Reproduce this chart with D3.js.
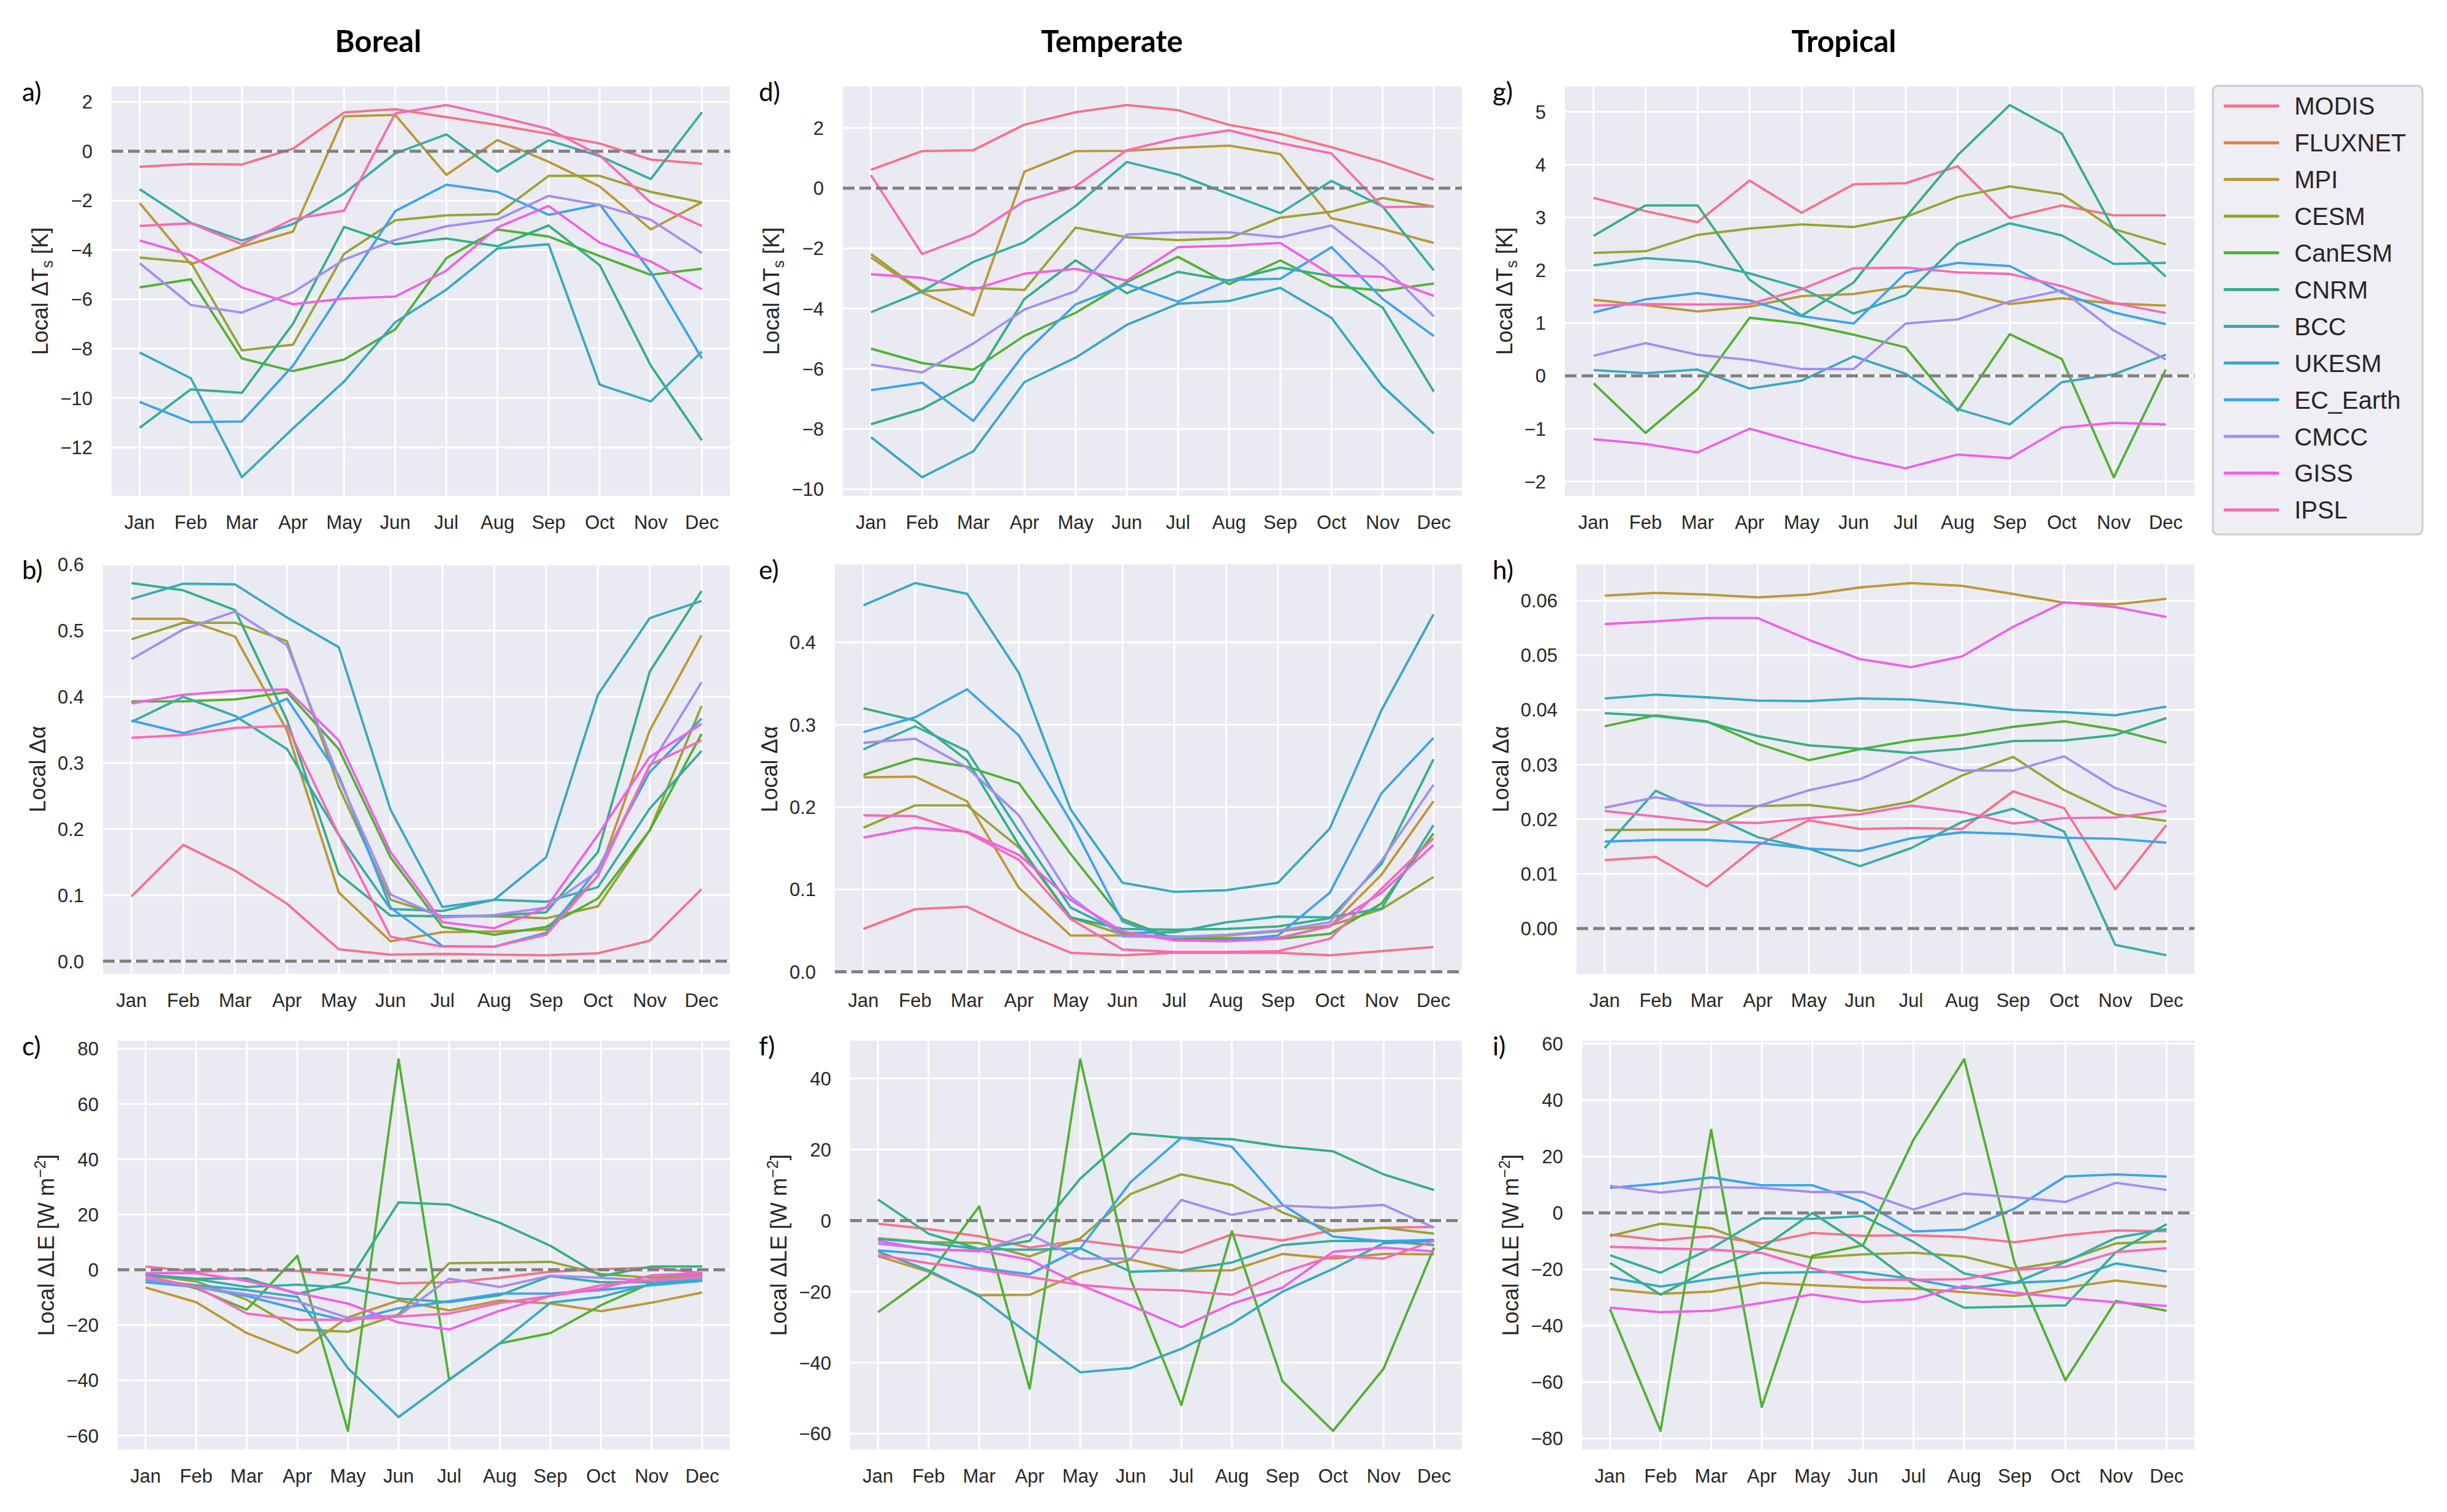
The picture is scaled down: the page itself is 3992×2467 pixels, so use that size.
<!DOCTYPE html>
<html>
<head>
<meta charset="utf-8">
<script src="https://cdn.jsdelivr.net/npm/d3@7"></script>
<style>
body { margin: 0; background: #fff; }
text { font-family: "Liberation Sans", Arial, sans-serif; fill: #262626; }
</style>
</head>
<body>
<svg id="fig" width="3992" height="2467"></svg>
<script>
// categories
var months = ["Jan", "Feb", "Mar", "Apr", "May", "Jun", "Jul", "Aug", "Sep", "Oct", "Nov", "Dec"];
var models = ["MODIS", "FLUXNET", "MPI", "CESM", "CanESM", "CNRM", "BCC", "UKESM", "EC_Earth", "CMCC", "GISS", "IPSL"];
var modelColors = ["#f77189", "#e0823a", "#bb9832", "#98a331", "#50b131", "#34af84", "#36ada4", "#38a9c0", "#3ba3ec", "#a48cf4", "#f15fe8", "#f66bb4"];

// local surface temperature change [K] (FLUXNET has no values)
var tsBoreal = {
  MODIS:    [-0.63, -0.52, -0.54, 0.10, 1.57, 1.70, 1.38, 1.06, 0.70, 0.31, -0.34, -0.51],
  MPI:      [-2.10, -4.58, -3.86, -3.26, 1.41, 1.47, -0.96, 0.45, -0.43, -1.43, -3.17, -2.07],
  CESM:     [-4.31, -4.50, -8.07, -7.84, -4.16, -2.80, -2.60, -2.55, -1.00, -1.00, -1.65, -2.07],
  CanESM:   [-5.52, -5.19, -8.40, -8.91, -8.44, -7.22, -4.33, -3.17, -3.46, -4.25, -5.01, -4.76],
  CNRM:     [-11.21, -9.65, -9.79, -6.99, -3.07, -3.77, -3.54, -3.85, -3.01, -4.62, -8.69, -11.72],
  BCC:      [-1.54, -2.90, -3.62, -2.95, -1.71, -0.09, 0.68, -0.83, 0.44, -0.20, -1.13, 1.58],
  UKESM:    [-8.16, -9.20, -13.21, -11.23, -9.33, -6.93, -5.61, -3.94, -3.77, -9.46, -10.14, -8.12],
  EC_Earth: [-10.16, -10.98, -10.95, -8.69, -5.55, -2.43, -1.36, -1.65, -2.58, -2.16, -4.90, -8.40],
  CMCC:     [-4.54, -6.23, -6.54, -5.72, -4.39, -3.60, -3.04, -2.77, -1.81, -2.18, -2.78, -4.13],
  GISS:     [-3.62, -4.22, -5.52, -6.20, -5.97, -5.89, -4.84, -3.09, -2.22, -3.71, -4.47, -5.60],
  IPSL:     [-3.03, -2.92, -3.77, -2.75, -2.41, 1.53, 1.87, 1.41, 0.90, -0.17, -2.09, -3.03]
};
var tsTemperate = {
  MODIS:    [0.61, 1.23, 1.26, 2.11, 2.52, 2.76, 2.59, 2.10, 1.80, 1.36, 0.87, 0.28],
  MPI:      [-2.30, -3.47, -4.23, 0.55, 1.23, 1.24, 1.34, 1.41, 1.13, -1.00, -1.36, -1.82],
  CESM:     [-2.19, -3.43, -3.31, -3.38, -1.31, -1.63, -1.73, -1.66, -0.98, -0.78, -0.33, -0.61],
  CanESM:   [-5.33, -5.81, -6.03, -4.90, -4.14, -3.12, -2.28, -3.19, -2.40, -3.26, -3.40, -3.17],
  CNRM:     [-7.84, -7.33, -6.42, -3.68, -2.40, -3.49, -2.78, -3.07, -2.64, -2.92, -3.96, -6.76],
  BCC:      [-4.12, -3.43, -2.45, -1.79, -0.59, 0.87, 0.45, -0.20, -0.83, 0.24, -0.61, -2.73],
  UKESM:    [-8.27, -9.60, -8.74, -6.44, -5.63, -4.54, -3.84, -3.75, -3.31, -4.31, -6.58, -8.15],
  EC_Earth: [-6.71, -6.46, -7.73, -5.49, -3.86, -3.19, -3.77, -3.05, -3.01, -1.96, -3.68, -4.91],
  CMCC:     [-5.86, -6.12, -5.16, -4.03, -3.42, -1.54, -1.47, -1.47, -1.63, -1.24, -2.56, -4.26],
  GISS:     [-2.86, -2.98, -3.37, -2.84, -2.68, -3.07, -1.96, -1.91, -1.82, -2.89, -2.95, -3.58],
  IPSL:     [0.43, -2.19, -1.54, -0.43, 0.06, 1.26, 1.66, 1.92, 1.50, 1.15, -0.63, -0.61]
};
var tsTropical = {
  MODIS:    [3.37, 3.12, 2.91, 3.70, 3.09, 3.63, 3.65, 3.97, 2.99, 3.23, 3.04, 3.04],
  MPI:      [1.44, 1.34, 1.22, 1.31, 1.51, 1.55, 1.70, 1.60, 1.36, 1.47, 1.37, 1.33],
  CESM:     [2.33, 2.36, 2.67, 2.79, 2.87, 2.82, 3.01, 3.39, 3.59, 3.44, 2.78, 2.49],
  CanESM:   [-0.14, -1.08, -0.25, 1.10, 0.99, 0.78, 0.54, -0.66, 0.79, 0.32, -1.92, 0.12],
  CNRM:     [2.65, 3.23, 3.23, 1.82, 1.14, 1.77, 3.00, 4.18, 5.13, 4.59, 2.77, 1.88],
  BCC:      [2.09, 2.23, 2.16, 1.94, 1.66, 1.18, 1.53, 2.50, 2.89, 2.66, 2.12, 2.14],
  UKESM:    [0.11, 0.05, 0.12, -0.24, -0.09, 0.37, 0.04, -0.63, -0.92, -0.12, 0.03, 0.40],
  EC_Earth: [1.20, 1.45, 1.57, 1.43, 1.13, 0.99, 1.95, 2.14, 2.08, 1.58, 1.20, 0.98],
  CMCC:     [0.38, 0.62, 0.40, 0.30, 0.13, 0.13, 0.99, 1.07, 1.41, 1.62, 0.86, 0.31],
  GISS:     [-1.20, -1.29, -1.45, -1.00, -1.28, -1.54, -1.75, -1.49, -1.56, -0.98, -0.89, -0.92],
  IPSL:     [1.33, 1.36, 1.35, 1.36, 1.64, 2.04, 2.05, 1.96, 1.93, 1.70, 1.38, 1.19]
};

// local albedo change
var albBoreal = {
  MODIS:    [0.098, 0.176, 0.137, 0.087, 0.018, 0.010, 0.011, 0.010, 0.009, 0.012, 0.031, 0.109],
  MPI:      [0.518, 0.518, 0.491, 0.349, 0.104, 0.030, 0.044, 0.045, 0.048, 0.129, 0.349, 0.493],
  CESM:     [0.487, 0.512, 0.512, 0.484, 0.264, 0.093, 0.068, 0.068, 0.065, 0.083, 0.198, 0.386],
  CanESM:   [0.393, 0.393, 0.396, 0.407, 0.321, 0.157, 0.052, 0.040, 0.052, 0.095, 0.198, 0.344],
  CNRM:     [0.572, 0.561, 0.531, 0.365, 0.132, 0.069, 0.068, 0.069, 0.074, 0.165, 0.438, 0.560],
  BCC:      [0.362, 0.400, 0.371, 0.321, 0.191, 0.079, 0.076, 0.093, 0.090, 0.112, 0.231, 0.318],
  UKESM:    [0.548, 0.571, 0.570, 0.520, 0.475, 0.229, 0.082, 0.093, 0.157, 0.403, 0.519, 0.545],
  EC_Earth: [0.364, 0.345, 0.365, 0.397, 0.281, 0.081, 0.023, 0.022, 0.043, 0.140, 0.286, 0.367],
  CMCC:     [0.457, 0.502, 0.529, 0.478, 0.277, 0.101, 0.066, 0.070, 0.081, 0.136, 0.295, 0.422],
  GISS:     [0.390, 0.403, 0.409, 0.411, 0.334, 0.165, 0.059, 0.050, 0.081, 0.191, 0.309, 0.359],
  IPSL:     [0.338, 0.342, 0.353, 0.356, 0.191, 0.037, 0.022, 0.022, 0.040, 0.129, 0.297, 0.334]
};
var albTemperate = {
  MODIS:    [0.052, 0.076, 0.079, 0.049, 0.023, 0.020, 0.023, 0.023, 0.023, 0.020, 0.025, 0.030],
  MPI:      [0.236, 0.237, 0.207, 0.102, 0.044, 0.044, 0.043, 0.041, 0.041, 0.055, 0.118, 0.207],
  CESM:     [0.175, 0.202, 0.202, 0.151, 0.066, 0.045, 0.042, 0.044, 0.049, 0.056, 0.076, 0.115],
  CanESM:   [0.239, 0.259, 0.249, 0.229, 0.143, 0.064, 0.040, 0.040, 0.040, 0.046, 0.083, 0.168],
  CNRM:     [0.320, 0.305, 0.257, 0.154, 0.066, 0.052, 0.051, 0.052, 0.055, 0.065, 0.131, 0.258],
  BCC:      [0.270, 0.298, 0.268, 0.171, 0.078, 0.047, 0.048, 0.060, 0.067, 0.066, 0.077, 0.178],
  UKESM:    [0.445, 0.472, 0.459, 0.363, 0.197, 0.108, 0.097, 0.099, 0.108, 0.174, 0.318, 0.434],
  EC_Earth: [0.291, 0.309, 0.343, 0.287, 0.183, 0.061, 0.038, 0.038, 0.044, 0.096, 0.217, 0.284],
  CMCC:     [0.278, 0.283, 0.248, 0.190, 0.091, 0.043, 0.042, 0.045, 0.050, 0.060, 0.135, 0.227],
  GISS:     [0.163, 0.175, 0.170, 0.142, 0.087, 0.049, 0.038, 0.037, 0.040, 0.056, 0.096, 0.154],
  IPSL:     [0.190, 0.189, 0.169, 0.136, 0.064, 0.027, 0.024, 0.024, 0.025, 0.040, 0.101, 0.162]
};
var albTropical = {
  MODIS:    [0.0125, 0.0131, 0.0077, 0.0152, 0.0198, 0.0182, 0.0184, 0.0182, 0.0251, 0.0220, 0.0072, 0.0189],
  MPI:      [0.0609, 0.0614, 0.0611, 0.0606, 0.0611, 0.0624, 0.0632, 0.0627, 0.0612, 0.0596, 0.0593, 0.0603],
  CESM:     [0.0180, 0.0181, 0.0181, 0.0224, 0.0226, 0.0215, 0.0232, 0.0280, 0.0314, 0.0253, 0.0209, 0.0197],
  CanESM:   [0.0370, 0.0390, 0.0379, 0.0338, 0.0308, 0.0328, 0.0344, 0.0354, 0.0369, 0.0379, 0.0364, 0.0340],
  CNRM:     [0.0394, 0.0389, 0.0378, 0.0352, 0.0335, 0.0329, 0.0321, 0.0329, 0.0343, 0.0344, 0.0354, 0.0385],
  BCC:      [0.0147, 0.0252, 0.0210, 0.0167, 0.0146, 0.0114, 0.0147, 0.0195, 0.0219, 0.0177, -0.0030, -0.0049],
  UKESM:    [0.0421, 0.0428, 0.0423, 0.0417, 0.0416, 0.0421, 0.0419, 0.0411, 0.0400, 0.0396, 0.0390, 0.0406],
  EC_Earth: [0.0159, 0.0162, 0.0162, 0.0157, 0.0146, 0.0142, 0.0165, 0.0176, 0.0173, 0.0166, 0.0164, 0.0157],
  CMCC:     [0.0221, 0.0240, 0.0225, 0.0224, 0.0253, 0.0273, 0.0314, 0.0289, 0.0289, 0.0315, 0.0257, 0.0223],
  GISS:     [0.0557, 0.0562, 0.0568, 0.0568, 0.0528, 0.0493, 0.0478, 0.0498, 0.0552, 0.0597, 0.0588, 0.0570],
  IPSL:     [0.0215, 0.0205, 0.0195, 0.0193, 0.0202, 0.0209, 0.0225, 0.0213, 0.0192, 0.0202, 0.0203, 0.0215]
};

// local latent heat flux change [W m-2]
var leBoreal = {
  MODIS:    [1.2, -0.7, -0.1, -0.4, -2.1, -4.9, -4.5, -2.9, -0.7, 0.2, 0.8, -1.2],
  MPI:      [-6.4, -11.7, -22.9, -30.1, -17.2, -11.1, -14.7, -11.1, -12.2, -15.0, -11.9, -8.2],
  CESM:     [-1.8, -4.2, -10.8, -21.6, -22.4, -16.1, 2.4, 2.6, 2.9, -1.5, -2.9, -1.8],
  CanESM:   [-2.0, -6.7, -14.4, 5.1, -58.3, 76.2, -39.8, -26.6, -22.9, -12.8, -4.7, -2.3],
  CNRM:     [-1.8, -3.2, -3.1, -8.7, -4.5, 24.4, 23.6, 17.0, 8.7, -2.3, 1.2, 1.2],
  BCC:      [-1.8, -3.4, -6.2, -5.4, -6.5, -10.4, -11.7, -9.2, -2.3, -4.5, -4.5, -3.2],
  UKESM:    [-3.6, -5.6, -7.3, -9.8, -35.6, -53.3, -39.8, -26.6, -11.9, -9.8, -5.1, -4.0],
  EC_Earth: [-4.5, -6.2, -9.5, -14.2, -18.6, -13.9, -11.4, -8.6, -8.6, -7.3, -5.6, -4.0],
  CMCC:     [-3.2, -6.2, -8.9, -11.4, -17.4, -16.6, -3.2, -6.2, -2.1, -2.9, -4.0, -2.9],
  GISS:     [-1.2, -1.2, -4.0, -8.4, -12.2, -19.1, -21.6, -14.8, -9.5, -6.7, -2.0, -1.2],
  IPSL:     [-2.3, -6.2, -15.8, -18.1, -18.1, -16.9, -15.8, -12.0, -9.5, -5.6, -3.7, -2.3]
};
var leTemperate = {
  MODIS:    [-0.9, -2.4, -4.4, -7.6, -5.6, -7.4, -9.0, -3.9, -5.6, -2.7, -2.0, -1.8],
  MPI:      [-10.0, -14.4, -21.0, -20.9, -14.7, -11.0, -14.2, -14.0, -9.4, -10.7, -9.4, -9.5],
  CESM:     [-5.0, -6.1, -6.3, -10.1, -5.0, 7.5, 13.0, 10.0, 2.3, -3.0, -2.0, -3.7],
  CanESM:   [-25.8, -15.5, 4.0, -47.3, 45.4, -16.6, -51.9, -3.0, -45.2, -59.2, -41.7, -7.6],
  CNRM:     [5.9, -3.7, -8.0, -5.7, 11.8, 24.5, 23.3, 22.9, 20.8, 19.5, 13.0, 8.6],
  BCC:      [-5.2, -6.3, -8.0, -8.2, -7.8, -14.4, -14.0, -11.8, -6.9, -5.7, -5.8, -6.9],
  UKESM:    [-8.7, -14.0, -21.3, -32.1, -42.7, -41.5, -36.1, -29.0, -20.0, -13.6, -6.4, -5.7],
  EC_Earth: [-8.4, -9.5, -13.3, -15.1, -7.8, 10.9, 23.3, 20.8, 4.5, -4.5, -5.8, -5.4],
  CMCC:     [-6.5, -8.0, -8.7, -3.9, -10.7, -10.7, 5.8, 1.6, 4.2, 3.6, 4.4, -2.0],
  GISS:     [-5.7, -8.2, -8.4, -11.0, -18.1, -23.9, -30.0, -23.4, -18.9, -8.8, -7.6, -8.7],
  IPSL:     [-9.7, -12.0, -13.8, -15.9, -18.1, -19.3, -19.7, -20.9, -14.6, -10.0, -10.7, -5.7]
};
var leTropical = {
  MODIS:    [-7.7, -9.7, -8.2, -10.8, -7.1, -8.1, -7.9, -8.6, -10.4, -7.9, -6.2, -6.5],
  MPI:      [-27.0, -28.7, -27.9, -24.8, -25.6, -26.5, -26.8, -28.1, -29.4, -26.5, -24.0, -26.1],
  CESM:     [-8.2, -3.8, -5.4, -12.2, -15.9, -14.7, -14.1, -15.5, -19.9, -17.0, -10.8, -10.1],
  CanESM:   [-34.1, -77.3, 29.5, -68.8, -15.2, -11.5, 26.0, 54.5, -18.0, -59.3, -31.2, -34.7],
  CNRM:     [-17.7, -29.0, -19.7, -12.6, 0.0, -11.7, -25.2, -33.6, -33.2, -32.8, -13.9, -4.0],
  BCC:      [-15.0, -21.2, -12.6, -1.9, -2.1, -1.1, -10.3, -21.5, -24.8, -17.4, -8.8, -5.7],
  UKESM:    [-22.9, -26.1, -23.5, -21.3, -21.0, -21.0, -23.5, -26.8, -24.8, -24.0, -17.9, -20.7],
  EC_Earth: [8.9, 10.4, 12.6, 9.8, 9.8, 3.9, -6.6, -5.9, 1.6, 12.9, 13.7, 12.9],
  CMCC:     [9.6, 7.2, 9.1, 8.9, 7.4, 7.4, 1.2, 6.9, 5.6, 3.9, 10.7, 8.2],
  GISS:     [-33.6, -35.2, -34.7, -31.9, -28.9, -31.6, -30.6, -25.9, -28.3, -30.1, -31.7, -33.0],
  IPSL:     [-12.0, -12.6, -13.0, -14.2, -19.7, -23.7, -23.7, -23.5, -20.2, -19.1, -13.9, -12.5]
};

// y tick values per panel
var ticksTsBoreal = [-12, -10, -8, -6, -4, -2, 0, 2];
var ticksTsTemperate = [-10, -8, -6, -4, -2, 0, 2];
var ticksTsTropical = [-2, -1, 0, 1, 2, 3, 4, 5];
var ticksAlbBoreal = [0, 0.1, 0.2, 0.3, 0.4, 0.5, 0.6];
var ticksAlbTemperate = [0, 0.1, 0.2, 0.3, 0.4];
var ticksAlbTropical = [0, 0.01, 0.02, 0.03, 0.04, 0.05, 0.06];
var ticksLeBoreal = [-60, -40, -20, 0, 20, 40, 60, 80];
var ticksLeTemperate = [-60, -40, -20, 0, 20, 40];
var ticksLeTropical = [-80, -60, -40, -20, 0, 20, 40, 60];

var columnTitles = ["Boreal", "Temperate", "Tropical"];

// layout
var rows = [{top: 141, bottom: 809}, {top: 921, bottom: 1589}, {top: 1698, bottom: 2365}];
var colRight = [1191, 2385, 3580];
var letterX = [36, 1238, 2435];
var titleX = [617, 1814, 3008];

var panels = [
  {letter: "a)", col: 0, row: 0, left: 182, data: tsBoreal, ticks: ticksTsBoreal, fmt: d3.format("d"), label: "ts"},
  {letter: "b)", col: 0, row: 1, left: 168, data: albBoreal, ticks: ticksAlbBoreal, fmt: d3.format(".1f"), label: "alb"},
  {letter: "c)", col: 0, row: 2, left: 192, data: leBoreal, ticks: ticksLeBoreal, fmt: d3.format("d"), label: "le"},
  {letter: "d)", col: 1, row: 0, left: 1375, data: tsTemperate, ticks: ticksTsTemperate, fmt: d3.format("d"), label: "ts"},
  {letter: "e)", col: 1, row: 1, left: 1362, data: albTemperate, ticks: ticksAlbTemperate, fmt: d3.format(".1f"), label: "alb"},
  {letter: "f)", col: 1, row: 2, left: 1387, data: leTemperate, ticks: ticksLeTemperate, fmt: d3.format("d"), label: "le"},
  {letter: "g)", col: 2, row: 0, left: 2553, data: tsTropical, ticks: ticksTsTropical, fmt: d3.format("d"), label: "ts"},
  {letter: "h)", col: 2, row: 1, left: 2572, data: albTropical, ticks: ticksAlbTropical, fmt: d3.format(".2f"), label: "alb"},
  {letter: "i)", col: 2, row: 2, left: 2581, data: leTropical, ticks: ticksLeTropical, fmt: d3.format("d"), label: "le"}
];

var svg = d3.select("#fig");
svg.append("rect").attr("width", 3992).attr("height", 2467).attr("fill", "#fff");

// column titles
svg.selectAll(".coltitle")
  .data(columnTitles)
  .enter()
  .append("text")
  .attr("x", (d, i) => titleX[i])
  .attr("y", 85)
  .attr("text-anchor", "middle")
  .style("font-family", "Lato, 'Open Sans', sans-serif")
  .style("font-weight", "bold")
  .style("font-size", "49px")
  .style("fill", "#000")
  .text(d => d);

panels.forEach(function(p) {
  var top = rows[p.row].top, bottom = rows[p.row].bottom, right = colRight[p.col];
  var g = svg.append("g");

  // matplotlib style autoscale: data range plus 5% margin
  var all = [];
  Object.keys(p.data).forEach(k => all = all.concat(p.data[k]));
  var ext = d3.extent(all);
  var pad = (ext[1] - ext[0]) * 0.05;

  var x = d3.scaleLinear().domain([-0.55, 11.55]).range([p.left, right]);
  var y = d3.scaleLinear().domain([ext[0] - pad, ext[1] + pad]).range([bottom, top]);

  g.append("rect")
    .attr("x", p.left).attr("y", top)
    .attr("width", right - p.left).attr("height", bottom - top)
    .attr("fill", "#eaeaf2");

  // grid
  g.selectAll(".hgrid").data(p.ticks).enter().append("line")
    .attr("x1", p.left).attr("x2", right)
    .attr("y1", d => y(d)).attr("y2", d => y(d))
    .attr("stroke", "#fff").attr("stroke-width", 3);
  g.selectAll(".vgrid").data(months).enter().append("line")
    .attr("x1", (d, i) => x(i)).attr("x2", (d, i) => x(i))
    .attr("y1", top).attr("y2", bottom)
    .attr("stroke", "#fff").attr("stroke-width", 3);

  // tick labels
  var ytl = g.append("g");
  ytl.selectAll("text").data(p.ticks).enter().append("text")
    .attr("x", p.left - 31)
    .attr("y", d => y(d))
    .attr("dy", "0.36em")
    .attr("text-anchor", "end")
    .style("font-size", "31px")
    .text(d => p.fmt(d));
  g.selectAll(".xtl").data(months).enter().append("text")
    .attr("x", (d, i) => x(i))
    .attr("y", bottom + 54)
    .attr("text-anchor", "middle")
    .style("font-size", "31px")
    .text(d => d);

  // model lines
  var line = d3.line().x((d, i) => x(i)).y(d => y(d));
  models.forEach(function(m, mi) {
    if (!p.data[m]) return;
    g.append("path")
      .datum(p.data[m])
      .attr("d", line)
      .attr("fill", "none")
      .attr("stroke", modelColors[mi])
      .attr("stroke-width", 3.8)
      .attr("stroke-linejoin", "round");
  });

  // zero line
  g.append("line")
    .attr("x1", p.left).attr("x2", right)
    .attr("y1", y(0)).attr("y2", y(0))
    .attr("stroke", "#808080").attr("stroke-width", 5)
    .attr("stroke-dasharray", "19,8");

  // y axis label, placed just left of the tick labels
  var bx = ytl.node().getBBox().x - 20;
  var cy = (top + bottom) / 2;
  var lab = g.append("text")
    .attr("transform", `translate(${bx}, ${cy}) rotate(-90)`)
    .attr("text-anchor", "middle")
    .style("font-size", "36px");
  if (p.label == "ts") {
    lab.append("tspan").text("Local \u0394T");
    lab.append("tspan").attr("dy", 8).style("font-size", "25px").text("s");
    lab.append("tspan").attr("dy", -8).text(" [K]");
  } else if (p.label == "alb") {
    lab.text("Local \u0394\u03b1");
  } else {
    lab.append("tspan").text("Local \u0394LE [W m");
    lab.append("tspan").attr("dy", -14).style("font-size", "25px").text("\u22122");
    lab.append("tspan").attr("dy", 14).text("]");
  }

  // panel letter
  svg.append("text")
    .attr("x", letterX[p.col])
    .attr("y", top + 24)
    .style("font-family", "Lato, 'Open Sans', sans-serif")
    .style("font-size", "42px")
    .style("fill", "#000")
    .text(p.letter);
});

// legend
var leg = svg.append("g");
leg.append("rect")
  .attr("x", 3610).attr("y", 140)
  .attr("width", 342).attr("height", 732)
  .attr("rx", 8)
  .attr("fill", "#eeeef4")
  .attr("stroke", "#cccccc").attr("stroke-width", 3);
var items = leg.selectAll(".item").data(models).enter().append("g")
  .attr("transform", (d, i) => `translate(0, ${173 + i * 59.9})`);
items.append("line")
  .attr("x1", 3630).attr("x2", 3716)
  .attr("stroke", (d, i) => modelColors[i])
  .attr("stroke-width", 5)
  .attr("stroke-linecap", "round");
items.append("text")
  .attr("x", 3743).attr("dy", "0.36em")
  .style("font-size", "40px")
  .text(d => d);
</script>
</body>
</html>
